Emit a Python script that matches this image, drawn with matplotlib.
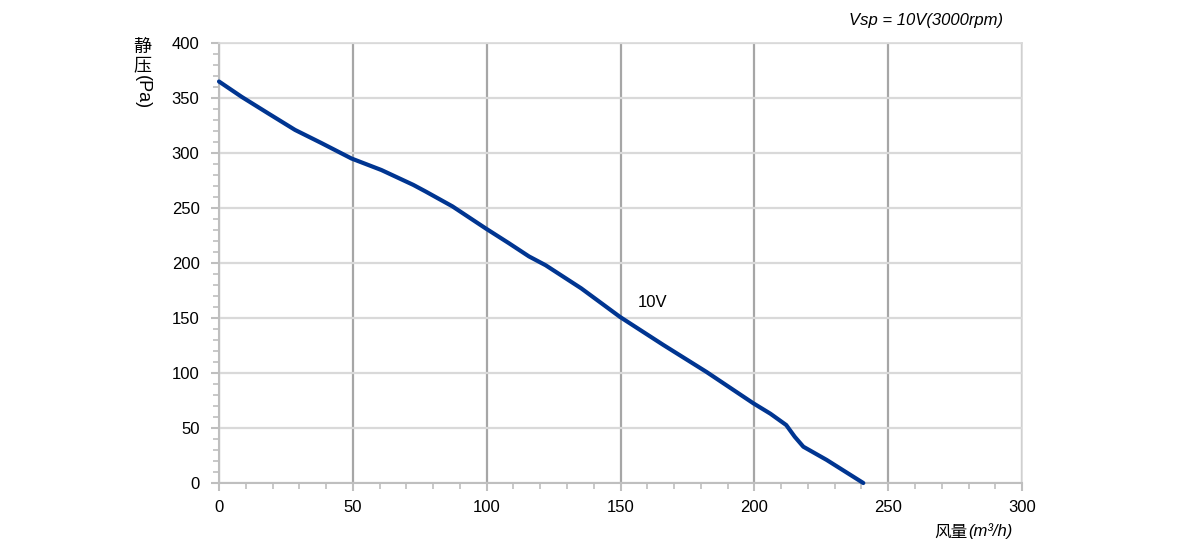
import matplotlib.pyplot as plt
from matplotlib.ticker import MultipleLocator

# 风量 (m3/h) / 静压 (Pa), 10V
flow = [0, 8.5, 18.4, 28.4, 38.3, 49.5, 60.7, 72.6, 77.2, 87.2, 99.6, 108.3,
        115.8, 122, 135.3, 149.8, 166, 182.1, 199.6, 206, 211.9, 215.1, 218.3,
        227, 240.7]
pressure = [365, 351, 336, 321, 309, 295, 284.5, 271, 265, 251.5, 231.5, 218,
            206, 198, 177, 151, 125.5, 101, 72.5, 63, 52.7, 42, 33,
            21, 0]

plt.rcParams['font.family'] = ['Liberation Sans', 'Noto Sans CJK SC', 'DejaVu Sans']

fig = plt.figure(figsize=(12, 5.5), dpi=100)
ax = fig.add_axes([0.1825, 0.1218, 0.6692, 0.8])

ax.set_xlim(0, 300)
ax.set_ylim(0, 400)
ax.xaxis.set_major_locator(MultipleLocator(50))
ax.xaxis.set_minor_locator(MultipleLocator(10))
ax.yaxis.set_major_locator(MultipleLocator(50))
ax.yaxis.set_minor_locator(MultipleLocator(10))

ax.grid(axis='x', which='major', color='#a6a6a6', lw=1.6)
ax.grid(axis='y', which='major', color='#d9d9d9', lw=1.6)
ax.set_axisbelow(True)

for s in ['left', 'bottom']:
    ax.spines[s].set_color('#bfbfbf')
    ax.spines[s].set_linewidth(1.5)
for s in ['top', 'right']:
    ax.spines[s].set_color('#d9d9d9')
    ax.spines[s].set_linewidth(1.2)

ax.tick_params(which='major', length=6, width=1.5, color='#bfbfbf', labelsize=12, pad=6)
ax.tick_params(which='minor', length=4, width=1.2, color='#bfbfbf')
ax.tick_params(axis='y', pad=8)

ax.plot(flow, pressure, color='#003591', lw=3, solid_joinstyle='round', solid_capstyle='round',
        clip_on=False, zorder=5)
ax.text(156.5, 164, '10V', fontsize=12, va='center', ha='left')

fig.text(1003 / 1200, 1 - 20 / 550, 'Vsp = 10V(3000rpm)', fontsize=12, style='italic',
         ha='right', va='center')

# x label: CJK part upright, unit part italic
fig.text(968 / 1200, 1 - 532 / 550, '风量', fontsize=12,
         ha='right', va='center', family=['Noto Sans CJK SC'])
fig.text(968 / 1200, 1 - 531 / 550, '(m³/h)', fontsize=12, style='italic',
         ha='left', va='center')

# y label: CJK upright, "(Pa)" turned
fig.text(142 / 1200, 1 - 47 / 550, '静', fontsize=13, ha='center', va='center',
         family=['Noto Sans CJK SC'])
fig.text(142 / 1200, 1 - 65 / 550, '压', fontsize=13, ha='center', va='center',
         family=['Noto Sans CJK SC'])
fig.text(142 / 1200, 1 - 92 / 550, '(Pa)', fontsize=13, rotation=270,
         ha='center', va='center')

fig.savefig('out.png', dpi=100)
